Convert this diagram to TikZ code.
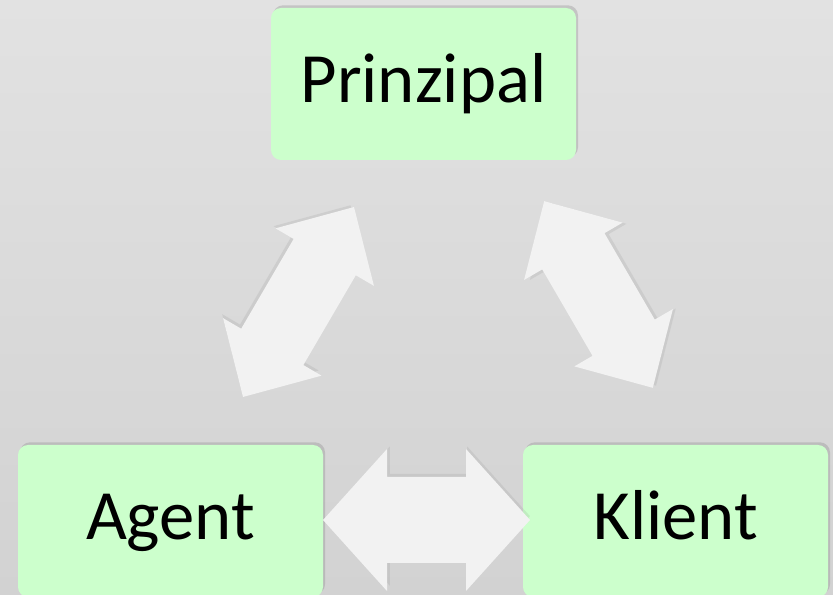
\documentclass[tikz,border=0pt]{standalone}
\usepackage{fontspec}
\setmainfont{Carlito}
\usetikzlibrary{shadows}

\definecolor{boxgreen}{RGB}{204,255,204}
\definecolor{bgtop}{RGB}{226,226,226}
\definecolor{bgbottom}{RGB}{210,210,210}
\definecolor{arrwhite}{RGB}{242,242,242}

\begin{document}
\begin{tikzpicture}[x=0.75pt,y=0.75pt,yscale=-1,
	partybox/.style={fill=boxgreen, rounded corners=7.5pt, inner sep=0pt,
		minimum width=228.75pt, minimum height=114pt,
		text height=38pt, text depth=9.5pt,
		font=\fontsize{53}{60}\selectfont,
		drop shadow={shadow xshift=1.5pt, shadow yshift=2pt, opacity=0.3}},
	blockarrow/.style 2 args={fill=arrwhite,
		drop shadow={shadow scale=0.98, shadow xshift=#1, shadow yshift=#2, opacity=0.15}}]
	\useasboundingbox (0,0) rectangle (833,595);
	\clip (0,0) rectangle (833,595);
	
	%Background
	\fill [top color=bgtop, bottom color=bgbottom] (0,0) rectangle (833,595);
	
	%Boxes
	\node [partybox] (prinzipal) at (423.5,84) {Prinzipal};
	\node [partybox] (agent) at (170.5,521) {Agent};
	\node [partybox] (klient) at (675.5,521) {Klient};
	
	%Double Arrow: Prinzipal - Agent
	\begin{scope}[shift={(298.5,302)}, rotate=-59.7]
		\path [blockarrow={-1.8pt}{2.8pt}] (110,0) -- (52,57) -- (52,36) -- (-52,36) -- (-52,57) -- (-110,0)
			-- (-52,-57) -- (-52,-36) -- (52,-36) -- (52,-57) -- cycle;
	\end{scope}
	%Double Arrow: Prinzipal - Klient
	\begin{scope}[shift={(598.5,294.5)}, rotate=59.8]
		\path [blockarrow={3.3pt}{0.2pt}] (108,0) -- (50,57) -- (50,36) -- (-50,36) -- (-50,57) -- (-108,0)
			-- (-50,-57) -- (-50,-36) -- (50,-36) -- (50,-57) -- cycle;
	\end{scope}
	%Double Arrow: Agent - Klient
	\begin{scope}[shift={(426.5,520)}]
		\path [blockarrow={1.5pt}{3pt}] (103.5,0) -- (39.5,71) -- (39.5,43) -- (-39.5,43) -- (-39.5,71) -- (-103.5,0)
			-- (-39.5,-71) -- (-39.5,-43) -- (39.5,-43) -- (39.5,-71) -- cycle;
	\end{scope}
	
\end{tikzpicture}
\end{document}
